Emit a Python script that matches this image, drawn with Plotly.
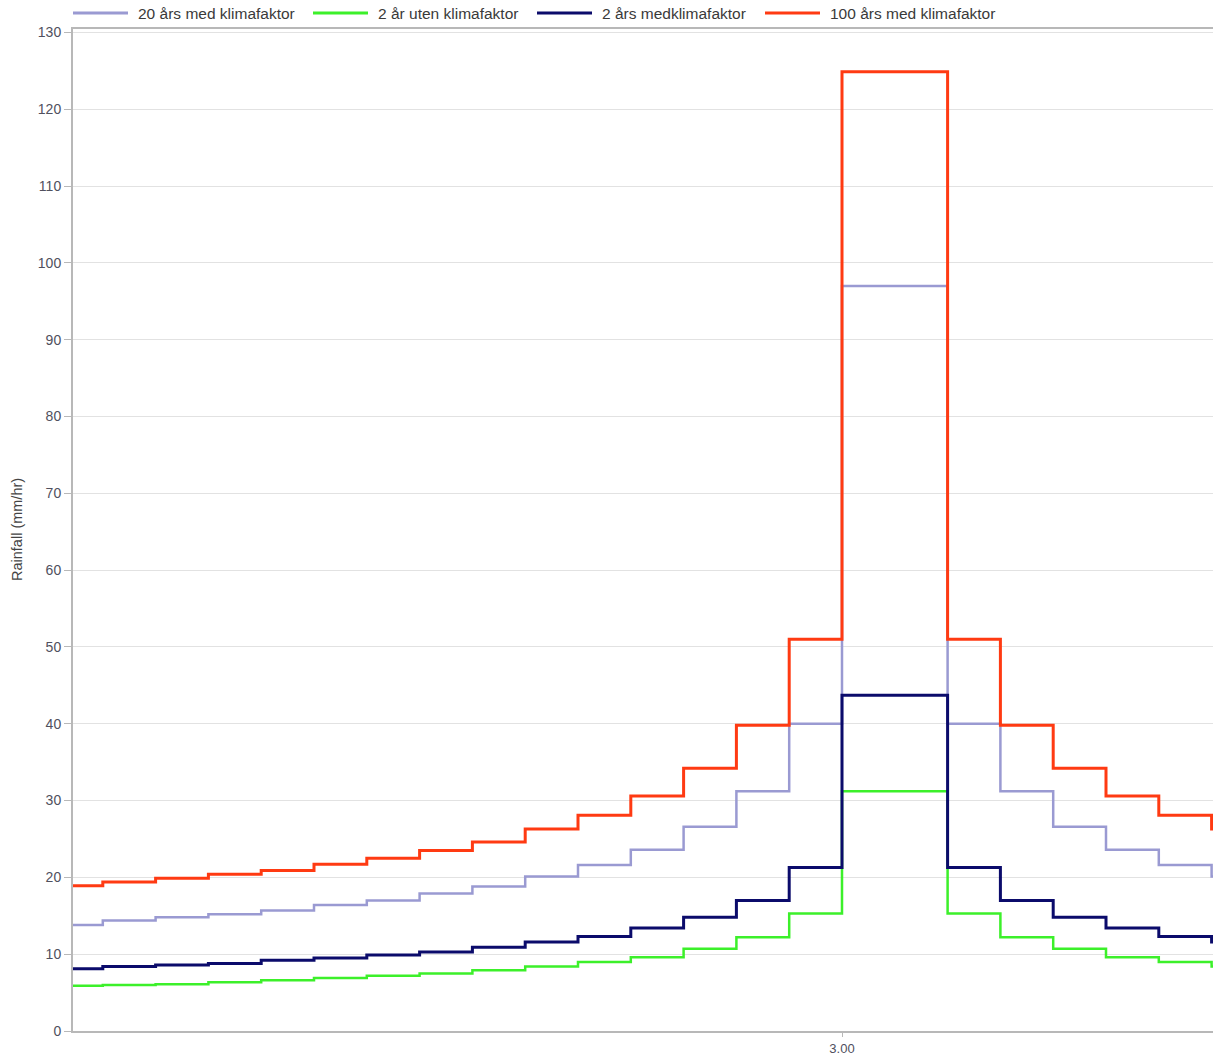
import plotly.graph_objects as go

# Step start times (hours), 2-minute blocks; peak occupies two blocks starting at 3.00
dt = 2 / 60
time_h = [round(3 + k * dt, 6) for k in range(-15, 8)]
time_end = round(3 + 8 * dt, 6)

names = ["20 års med klimafaktor", "2 år uten klimafaktor", "2 års medklimafaktor", "100 års med klimafaktor"]

r20_klima = [13.8, 14.4, 14.8, 15.2, 15.7, 16.4, 17.0, 17.9, 18.8, 20.1, 21.6, 23.6, 26.6, 31.2, 40.0,
             97.0, 97.0, 40.0, 31.2, 26.6, 23.6, 21.6, 20.1]
r2_uten = [5.9, 6.0, 6.1, 6.35, 6.6, 6.9, 7.2, 7.5, 7.9, 8.4, 9.0, 9.6, 10.7, 12.2, 15.3,
           31.2, 31.2, 15.3, 12.2, 10.7, 9.6, 9.0, 8.4]
r2_klima = [8.1, 8.4, 8.6, 8.8, 9.2, 9.5, 9.9, 10.3, 10.9, 11.6, 12.3, 13.4, 14.8, 17.0, 21.3,
            43.7, 43.7, 21.3, 17.0, 14.8, 13.4, 12.3, 11.6]
r100_klima = [18.9, 19.4, 19.9, 20.4, 20.9, 21.7, 22.5, 23.5, 24.6, 26.3, 28.1, 30.6, 34.2, 39.8, 51.0,
              124.9, 124.9, 51.0, 39.8, 34.2, 30.6, 28.1, 26.3]

y_ticks = list(range(0, 131, 10))
x_tick_vals = [3.0]
x_tick_text = ["3.00"]

colors = ["#9a9ad2", "#3cf02a", "#0b0b6b", "#ff3a12"]
widths = [2.5, 2.5, 3, 3]
series_vals = [r20_klima, r2_uten, r2_klima, r100_klima]

# Figure fills the page (body margin removed by post_script)
W, H = 1213, 1056
ML, MT, MB = 73, 29, 25
PW = W - ML
PH = H - MT - MB

def px(xf):
    return (xf - ML) / PW

def py(yf):
    return (H - MB - yf) / PH

fig = go.Figure()
for name, vals, color, w in zip(names, series_vals, colors, widths):
    fig.add_trace(go.Scatter(
        x=time_h + [time_end], y=vals + [vals[-1]],
        mode="lines", line=dict(color=color, width=w, shape="hv"),
        name=name, showlegend=False,
    ))

# Manual legend (line starts at page x 73, 313, 537, 765)
legend_x = [73, 313, 537, 765]
shapes = []
annotations = []
for lx, name, color in zip(legend_x, names, colors):
    shapes.append(dict(type="line", xref="paper", yref="paper",
                       x0=px(lx), x1=px(lx + 55), y0=py(13), y1=py(13),
                       line=dict(color=color, width=3)))
    annotations.append(dict(xref="paper", yref="paper", x=px(lx + 63), y=py(13),
                            xanchor="left", yanchor="middle", showarrow=False,
                            text=name, font=dict(size=15.5, color="#3a3a3a")))

annotations.append(dict(xref="paper", yref="paper", x=px(17), y=0.5, textangle=-90,
                        xanchor="center", yanchor="middle", showarrow=False,
                        text="Rainfall (mm/hr)", font=dict(size=14.5, color="#444")))

font_family = "Liberation Sans, Arial, sans-serif"
fig.update_layout(
    width=W, height=H,
    margin=dict(l=ML, r=0, t=MT, b=MB, autoexpand=False),
    paper_bgcolor="white", plot_bgcolor="white",
    font=dict(family=font_family, size=14, color="#50505e"),
    showlegend=False,
    shapes=shapes, annotations=annotations,
    xaxis=dict(range=[3 - 769 / 1584, 3 + 371 / 1584], tickvals=x_tick_vals, ticktext=x_tick_text,
               showgrid=False, showline=True, linecolor="#b8b8b8", linewidth=2, mirror=True,
               ticks="outside", ticklen=4, tickcolor="#b8b8b8", zeroline=False,
               tickfont=dict(size=13, color="#50505e"), automargin=False),
    yaxis=dict(range=[0, 130.46], tickvals=y_ticks, showgrid=True, gridcolor="#e2e2e2", gridwidth=1,
               showline=True, linecolor="#b8b8b8", linewidth=2, ticks="outside", ticklen=7,
               tickcolor="#b8b8b8", zeroline=False, tickfont=dict(size=14, color="#50505e"),
               automargin=False),
)

fig.write_html("out.html", config={"displayModeBar": False},
               post_script="document.body.style.margin='0';document.body.style.overflow='hidden';")
